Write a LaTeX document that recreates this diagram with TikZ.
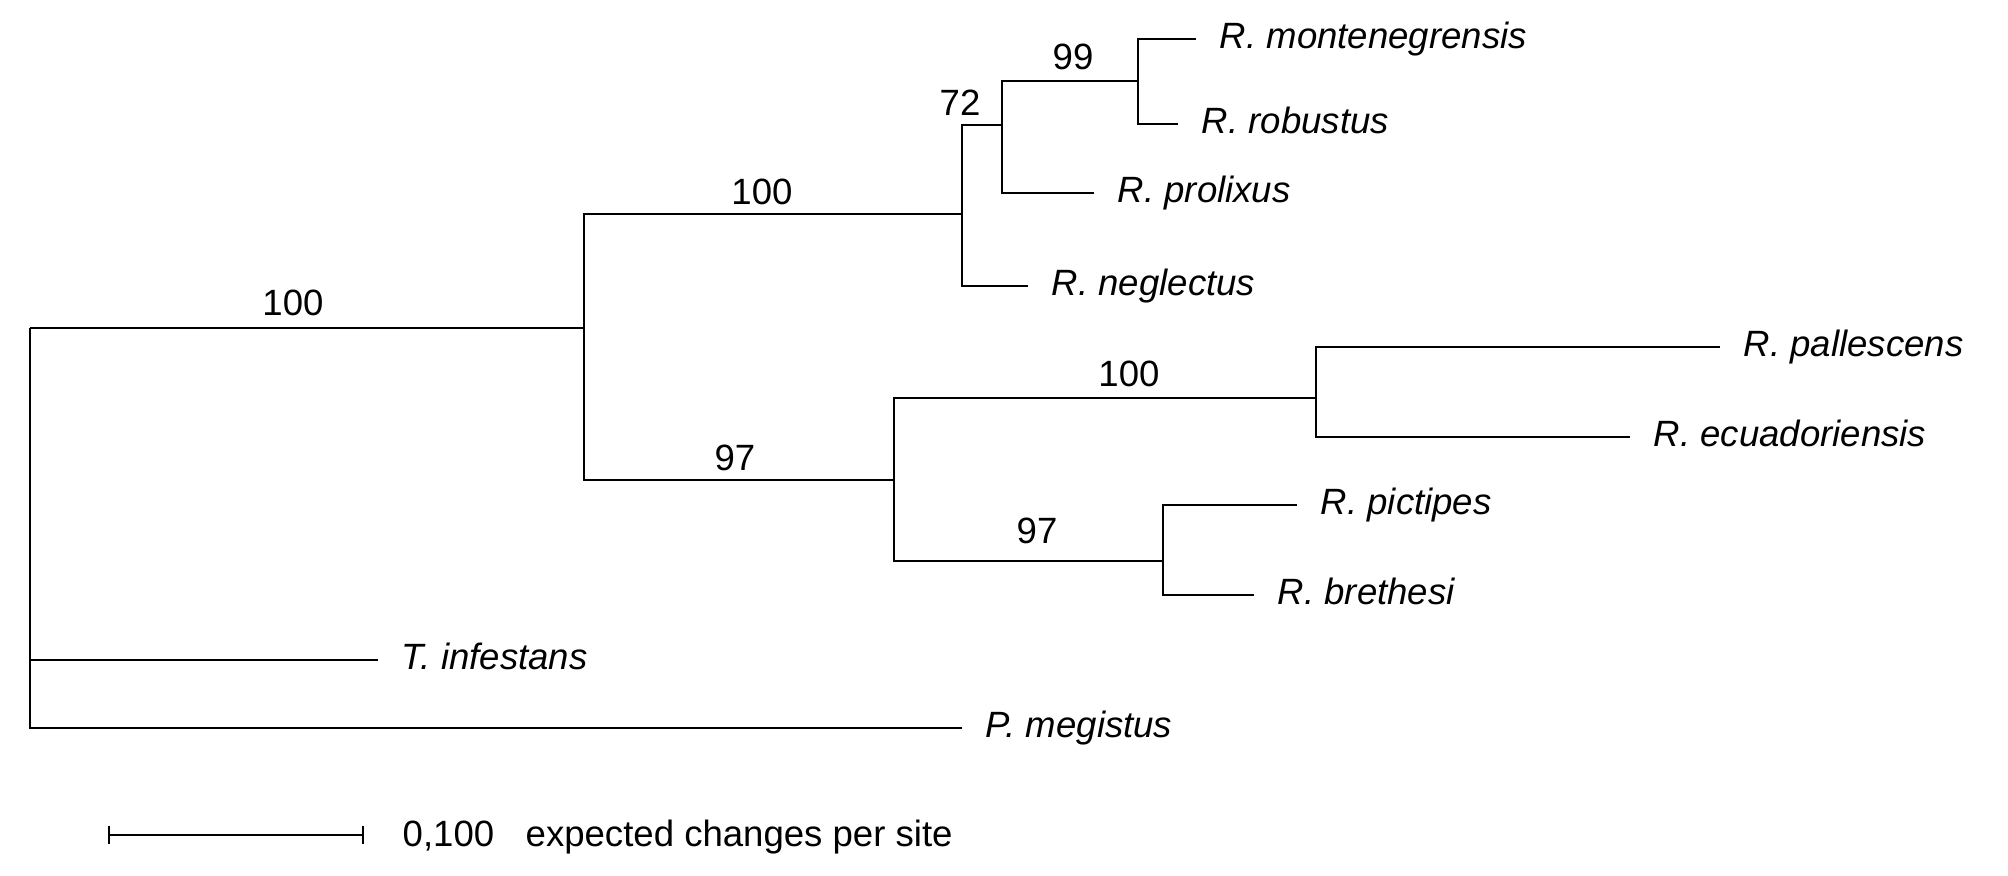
\documentclass[tikz,border=0pt]{standalone}
\usepackage{fontspec}
\setmainfont{Liberation Sans}
\usetikzlibrary{positioning, arrows.meta}

\begin{document}
\begin{tikzpicture}[x=0.01cm, y=-0.01cm,
  branch/.style={line width=0.7pt},
  taxon/.style={anchor=west, inner xsep=6.8pt, inner ysep=0pt, outer sep=0pt, text height=7.4pt, text depth=2pt, font=\fontsize{10.4}{12}\selectfont\itshape},
  support/.style={inner sep=0pt, text height=7.4pt, text depth=2pt, font=\fontsize{10.4}{12}\selectfont}
]
  \useasboundingbox (0,0) rectangle (2008,876);
  \coordinate (root) at (30,328);
  \coordinate (nA) at (584,328);
  \coordinate (nB) at (962,214);
  \coordinate (nE) at (1002,125);
  \coordinate (nF) at (1138,81);
  \coordinate (nC) at (894,480);
  \coordinate (nG) at (1316,398);
  \coordinate (nH) at (1163,561);

  \node[taxon] (mont) at (1196,39) {R. montenegrensis};
  \node[taxon] (robu) at (1178,124) {R. robustus};
  \node[taxon] (prol) at (1094,193) {R. prolixus};
  \node[taxon] (negl) at (1028,286) {R. neglectus};
  \node[taxon] (pall) at (1720,347) {R. pallescens};
  \node[taxon] (ecua) at (1630,437) {R. ecuadoriensis};
  \node[taxon] (pict) at (1297,505) {R. pictipes};
  \node[taxon] (bret) at (1254,595) {R. brethesi};
  \node[taxon] (tinf) at (378,660) {T. infestans};
  \node[taxon] (pmeg) at (962,728) {P. megistus};

  \draw[branch] (root) -- (nA);
  \draw[branch] (nA) |- (nB);
  \draw[branch] (nA) |- (nC);
  \draw[branch] (nB) |- (nE);
  \draw[branch] (nB) |- (negl.west);
  \draw[branch] (nE) |- (nF);
  \draw[branch] (nE) |- (prol.west);
  \draw[branch] (nF) |- (mont.west);
  \draw[branch] (nF) |- (robu.west);
  \draw[branch] (nC) |- (nG);
  \draw[branch] (nC) |- (nH);
  \draw[branch] (nG) |- (pall.west);
  \draw[branch] (nG) |- (ecua.west);
  \draw[branch] (nH) |- (pict.west);
  \draw[branch] (nH) |- (bret.west);
  \draw[branch] (root) |- (tinf.west);
  \draw[branch] (root) |- (pmeg.west);

  \node[support] (bsRoot) at (293,306) {100};
  \node[support] (bsB) at (762,195) {100};
  \node[support] (bsE) at (960,106) {72};
  \node[support] (bsF) at (1073,60) {99};
  \node[support] (bsC) at (735,461) {97};
  \node[support] (bsG) at (1129,377) {100};
  \node[support] (bsH) at (1037,534) {97};

  \coordinate (sbL) at (108,835);
  \coordinate (sbR) at (364,835);
  \draw[branch, {Bar[width=0.18cm]}-{Bar[width=0.18cm]}] (sbL) -- (sbR);
  \node[support, anchor=west] (sbVal) at (402,837) {0,100};
  \node[support, anchor=west] (sbText) at (525,837) {expected changes per site};
\end{tikzpicture}
\end{document}
